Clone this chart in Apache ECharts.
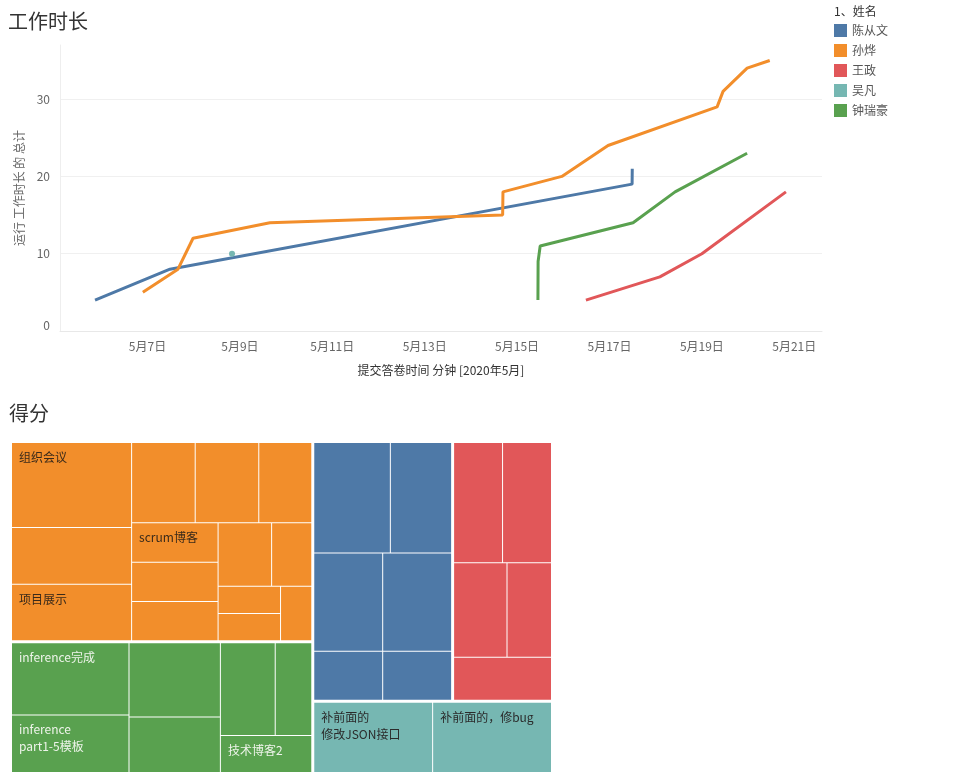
<!DOCTYPE html>
<html>
<head>
<meta charset="utf-8">
<script src="https://cdn.jsdelivr.net/npm/echarts@6/dist/echarts.min.js"></script>
<style>
html,body{margin:0;padding:0;background:#fff;}
#chart{width:963px;height:778px;}
</style>
</head>
<body>
<div id="chart"></div>
<script>
// ---------- data ----------
const people = ['陈从文', '孙烨', '王政', '吴凡', '钟瑞豪'];

// cumulative work hours (line chart); times in May 2020
const chenTimes  = ['2020-05-05 20:45', '2020-05-07 11:40', '2020-05-17 11:45', '2020-05-17 11:50'];
const chenHours  = [4, 8, 19, 21];
const sunTimes   = ['2020-05-06 21:35', '2020-05-07 15:50', '2020-05-07 23:40', '2020-05-09 15:35', '2020-05-14 16:30', '2020-05-14 16:40', '2020-05-15 23:15', '2020-05-16 23:15', '2020-05-19 07:55', '2020-05-19 11:00', '2020-05-19 23:30', '2020-05-20 11:15'];
const sunHours   = [5, 8, 12, 14, 15, 18, 20, 24, 29, 31, 34, 35];
const wangTimes  = ['2020-05-16 11:45', '2020-05-18 02:10', '2020-05-19 00:00', '2020-05-20 19:40'];
const wangHours  = [4, 7, 10, 18];
const wuTimes    = ['2020-05-08 19:55'];
const wuHours    = [10];
const zhongTimes = ['2020-05-15 10:50', '2020-05-15 10:55', '2020-05-15 12:00', '2020-05-17 12:15', '2020-05-18 10:05', '2020-05-19 23:30'];
const zhongHours = [4, 9, 11, 14, 18, 23];

const xTickDates  = ['2020-05-07', '2020-05-09', '2020-05-11', '2020-05-13', '2020-05-15', '2020-05-17', '2020-05-19', '2020-05-21'];
const xTickLabels = ['5月7日', '5月9日', '5月11日', '5月13日', '5月15日', '5月17日', '5月19日', '5月21日'];
const xRange = ['2020-05-05 02:33', '2020-05-21 14:24'];

// scores (treemap)
const sunTasks    = ['组织会议', '', '项目展示', '', '', '', 'scrum博客', '', '', '', '', '', '', ''];
const sunScores   = [12, 8, 8, 6, 6, 5, 4, 4, 4, 4, 3, 2, 2, 2];
const zhongTasks  = ['inference完成', 'inference\npart1-5模板', '', '', '', '', '技术博客2'];
const zhongScores = [10, 8, 8, 6, 6, 4, 4];
const chenTasks   = ['', '', '', '', '', ''];
const chenScores  = [10, 8, 8, 8, 4, 4];
const wangTasks   = ['', '', '', '', ''];
const wangScores  = [7, 7, 6, 5, 5];
const wuTasks     = ['补前面的\n修改JSON接口', '补前面的，修bug'];
const wuScores    = [10, 10];

// ---------- styling ----------
const palette = {
  '陈从文': '#4e79a7', '孙烨': '#f28e2b', '王政': '#e15759', '吴凡': '#76b7b2', '钟瑞豪': '#59a14f'
};
const labelColor = {
  '陈从文': '#ffffff', '孙烨': '#3a2a1a', '王政': '#ffffff', '吴凡': '#2b2b2b', '钟瑞豪': '#eef4ea'
};
const FONT = '"Noto Sans CJK SC", "Noto Sans", sans-serif';

// convert 'YYYY-MM-DD HH:mm' to fractional day of month (May 2020)
function toDay(s) {
  const [d, t] = s.split(' ');
  const D = Number(d.split('-')[2]);
  let h = 0, m = 0;
  if (t) { [h, m] = t.split(':').map(Number); }
  return D + (h * 60 + m) / 1440;
}
function zip(times, vals) { return times.map((t, i) => [toDay(t), vals[i]]); }
const lineData = {
  '陈从文': zip(chenTimes, chenHours),
  '孙烨': zip(sunTimes, sunHours),
  '王政': zip(wangTimes, wangHours),
  '吴凡': zip(wuTimes, wuHours),
  '钟瑞豪': zip(zhongTimes, zhongHours)
};
const xTickValues = xTickDates.map(toDay);

const lineSeries = people.map(p => ({
  name: p,
  type: 'line',
  data: lineData[p],
  showSymbol: p === '吴凡',
  symbol: 'circle',
  symbolSize: 6,
  lineStyle: { width: 3, color: palette[p] },
  itemStyle: { color: palette[p] },
  emphasis: { disabled: true },
  silent: true,
  z: 3
}));

function leaves(names, vals, p) {
  return names.map((n, i) => ({
    name: n,
    value: vals[i],
    label: { color: labelColor[p] }
  }));
}
const treeGroups = [
  { name: '孙烨', tasks: sunTasks, scores: sunScores },
  { name: '钟瑞豪', tasks: zhongTasks, scores: zhongScores },
  { name: '陈从文', tasks: chenTasks, scores: chenScores },
  { name: '王政', tasks: wangTasks, scores: wangScores },
  { name: '吴凡', tasks: wuTasks, scores: wuScores }
];
const treeData = treeGroups.map(g => ({
  name: g.name,
  itemStyle: { color: palette[g.name] },
  children: leaves(g.tasks, g.scores, g.name)
}));

const chart = echarts.init(document.getElementById('chart'), null, { renderer: 'canvas' });
chart.setOption({
  animation: false,
  backgroundColor: '#ffffff',
  textStyle: { fontFamily: FONT },
  title: [
    { text: '工作时长', left: 3, top: 6, textStyle: { fontSize: 20, fontWeight: 'normal', color: '#333', fontFamily: FONT } },
    { text: '得分', left: 4, top: 398, textStyle: { fontSize: 20, fontWeight: 'normal', color: '#333', fontFamily: FONT } },
    { text: '1、姓名', left: 829, top: 0, textStyle: { fontSize: 12, fontWeight: 'normal', color: '#333', fontFamily: FONT } }
  ],
  legend: {
    data: people,
    orient: 'vertical',
    left: 834,
    top: 24,
    padding: 0,
    itemWidth: 13,
    itemHeight: 13,
    itemGap: 7,
    icon: 'rect',
    selectedMode: false,
    textStyle: { fontSize: 12, color: '#555', fontFamily: FONT }
  },
  grid: { left: 60, right: 141, top: 45, bottom: 447, containLabel: false },
  xAxis: {
    type: 'value',
    min: toDay(xRange[0]),
    max: toDay(xRange[1]),
    name: '提交答卷时间 分钟 [2020年5月]',
    nameLocation: 'middle',
    nameGap: 33,
    nameTextStyle: { fontSize: 12, color: '#333', fontFamily: FONT },
    axisLine: { show: true, lineStyle: { color: '#e8e8e8' } },
    axisTick: { show: false },
    splitLine: { show: false },
    axisLabel: {
      customValues: xTickValues,
      color: '#666',
      fontSize: 12,
      margin: 9,
      formatter: function (v) {
        let best = -1, bd = 1e9;
        xTickValues.forEach((t, i) => { const d = Math.abs(t - v); if (d < bd) { bd = d; best = i; } });
        return bd < 0.01 ? xTickLabels[best] : '';
      }
    }
  },
  yAxis: {
    type: 'value',
    min: 0,
    max: 37,
    interval: 10,
    name: '运行 工作时长 的 总计',
    nameLocation: 'middle',
    nameRotate: 90,
    nameGap: 29,
    nameTextStyle: { fontSize: 12, color: '#666', fontFamily: FONT },
    axisLine: { show: true, lineStyle: { color: '#eeeeee' } },
    axisTick: { show: false },
    axisLabel: { color: '#666', fontSize: 12, margin: 10, showMaxLabel: false, verticalAlignMinLabel: 'bottom' },
    splitLine: { show: true, showMinLine: false, showMaxLine: false, lineStyle: { color: '#f0f0f0' } }
  },
  series: lineSeries.concat([{
    name: '得分',
    type: 'treemap',
    left: 12,
    top: 443,
    width: 539,
    height: 329,
    roam: false,
    nodeClick: false,
    sort: false,
    silent: true,
    breadcrumb: { show: false },
    label: {
      show: true,
      position: 'insideTopLeft',
      fontSize: 12,
      lineHeight: 17,
      fontFamily: FONT,
      padding: [6, 7, 0, 7]
    },
    upperLabel: { show: false },
    levels: [
      { itemStyle: { borderWidth: 0, gapWidth: 3, borderColor: '#ffffff' } },
      { itemStyle: { borderWidth: 0, gapWidth: 1, borderColor: '#ffffff' } },
      { itemStyle: { borderWidth: 0 } }
    ],
    data: treeData
  }])
});
</script>
</body>
</html>
